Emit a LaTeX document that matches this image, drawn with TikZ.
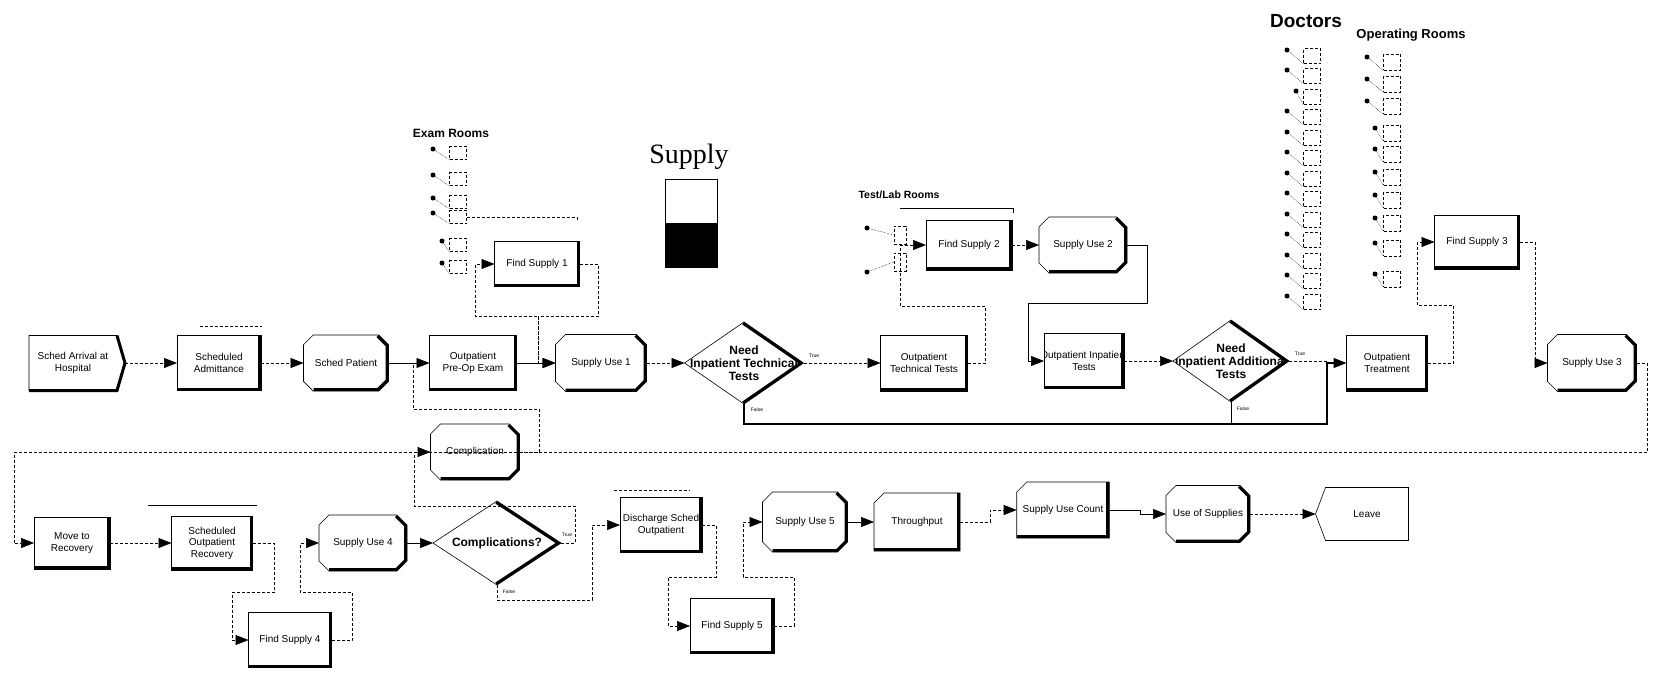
\documentclass[tikz,border=0pt]{standalone}
\usepackage{fontspec}
\setmainfont{Liberation Sans}
\newfontfamily\supplyfont{Liberation Serif}
\usetikzlibrary{shapes.geometric,shapes.misc,arrows.meta}
\tikzset{
  ln/.style={line width=0.6pt, densely dashed},
  sln/.style={line width=0.7pt},
  conn/.style={ln, -{Triangle[length=13pt,width=10pt]}},
  sconn/.style={sln, -{Triangle[length=13pt,width=10pt]}},
  sz/.style 2 args={minimum width=#1pt, minimum height=#2pt},
  txt/.style={font=\fontsize{10}{11.5}\selectfont, align=center, inner sep=1pt, outer sep=0pt},
  proc/.style={txt, rectangle, draw, line width=0.6pt, fill=white,
    path picture={\draw[line width=6pt] (path picture bounding box.north east) -- (path picture bounding box.south east) -- (path picture bounding box.south west);}},
  cproc/.style={txt, rectangle, draw, line width=0.6pt, fill=white,
    path picture={\node[rectangle, draw=none, fill=none, txt] at (path picture bounding box.center) {#1};
      \draw[line width=6pt] (path picture bounding box.north east) -- (path picture bounding box.south east) -- (path picture bounding box.south west);}},
  octa/.style={txt, chamfered rectangle, chamfered rectangle sep=5pt, draw, line width=0.6pt, fill=white,
    path picture={\draw[line width=6pt] ([xshift=-10pt]path picture bounding box.north east) -- ([yshift=-10pt]path picture bounding box.north east) -- ([yshift=10pt]path picture bounding box.south east) -- ([xshift=-10pt]path picture bounding box.south east) -- ([xshift=10pt]path picture bounding box.south west);}},
  rec/.style={txt, chamfered rectangle, chamfered rectangle corners=north west, chamfered rectangle sep=5pt, draw, line width=0.6pt, fill=white,
    path picture={\draw[line width=6pt] (path picture bounding box.north east) -- (path picture bounding box.south east) -- (path picture bounding box.south west);}},
  dec/.style={diamond, draw, line width=0.6pt, fill=white, inner sep=0pt, outer sep=0pt,
    path picture={\node[rectangle, draw=none, fill=none, font=\bfseries\fontsize{12}{13}\selectfont, align=center, inner sep=0pt] at (path picture bounding box.center) {#1};
      \draw[line width=6pt] (path picture bounding box.north) -- (path picture bounding box.east) -- (path picture bounding box.south);}},
  flag/.style={font=\fontsize{5}{6}\selectfont, inner sep=0pt},
  res/.style={draw, densely dashed, line width=0.5pt, inner sep=0pt},
  rdot/.style={circle, fill, inner sep=0pt, minimum size=5pt},
  heading/.style={font=\bfseries\fontsize{#1}{#1}\selectfont, inner sep=0pt},
}
\begin{document}
\begin{tikzpicture}[x=1pt, y=-1pt]
\useasboundingbox (0,0) rectangle (1653,673);

% ---------- titles ----------
\node[heading=19] (doc) at (1306,21) {Doctors};
\node[heading=13] (orl) at (1411,35) {Operating Rooms};
\node[heading=12] (exl) at (451,133) {Exam Rooms};
\node[heading=10.5] (tll) at (899,195) {Test/Lab Rooms};
\node[font=\supplyfont\fontsize{28}{28}\selectfont, inner sep=0pt] (suptitle) at (689,157) {Supply};
\node[draw, line width=0.5pt, sz={52}{88}, inner sep=0pt] (sbar) at (691,223) {};
\fill (sbar.west) rectangle (sbar.south east);

% ---------- resources ----------
\foreach \y/\dx [count=\i] in {153/433,179/433,202/433,217/433,245/442,267/442} {
  \node[res, sz={17}{13}] (er\i) at (458,\y) {};
  \node[rdot] (erd\i) at (\dx,\y-4) {};
  \draw[densely dotted, line width=0.5pt] (erd\i) -- (er\i.south west);
}
\foreach \y/\dx [count=\i] in {56/1287,76/1287,97/1296,117/1287,138/1287,158/1287,179/1287,199/1287,220/1287,240/1287,261/1287,281/1287,302/1287} {
  \node[res, sz={17}{15}] (dr\i) at (1312,\y) {};
  \node[rdot] (drd\i) at (\dx,\y-6) {};
  \draw[densely dotted, line width=0.5pt] (drd\i) -- (dr\i.south west);
}
\foreach \y/\dx [count=\i] in {62/1367,84/1367,106/1367,133/1375,154/1375,177/1375,200/1375,223/1375,248/1375,279/1375} {
  \node[res, sz={17}{16}] (or\i) at (1392,\y) {};
  \node[rdot] (ord\i) at (\dx,\y-5) {};
  \draw[densely dotted, line width=0.5pt] (ord\i) -- (or\i.south west);
}
\node[res, sz={12}{18}] (tl1) at (900,235) {};
\node[res, sz={12}{18}] (tl2) at (900,262) {};
\node[rdot] (tld1) at (867,228) {};
\node[rdot] (tld2) at (867,272) {};
\draw[densely dotted, line width=0.5pt] (tld1) -- (tl1.west);
\draw[densely dotted, line width=0.5pt] (tld2) -- (tl2.west);

% ---------- decorative queue lines ----------
\draw[ln] (200,326) -- (262,326);
\draw[ln] (467,217) -- (577,217) -- (577,222);
\draw[line width=0.5pt] (900,208) -- (1013,208) -- (1013,213);
\draw[line width=0.5pt] (148,505) -- (257,505);
\draw[ln] (614,490) -- (690,490);

% ---------- top row ----------
\node[txt, sz={88}{55}] (arr) at (73,363) {Sched Arrival at\\Hospital};
\draw[line width=0.6pt] (arr.north west) -- (arr.north east) -- ([xshift=8pt]arr.east) -- (arr.south east) -- (arr.south west) -- cycle;
\draw[line width=3pt] (arr.north east) -- ([xshift=8pt]arr.east) -- (arr.south east) -- (arr.south west);
\node[proc, sz={84}{55}] (adm) at (219,363) {Scheduled\\Admittance};
\node[octa, sz={85}{56}] (spat) at (346,363) {Sched Patient};
\node[proc, sz={87}{55}] (preop) at (473,363) {Outpatient\\Pre-Op Exam};
\node[octa, sz={91}{57}] (su1) at (601,363) {Supply Use 1};
\node[dec={Need\\Inpatient Technical\\Tests}, sz={119}{82}] (d1) at (744,363) {};
\node[proc, sz={87}{56}] (ott) at (924,363) {Outpatient\\Technical Tests};
\node[cproc={Outpatient Inpatient\\Tests}, sz={80}{55}] (oit) at (1084,361) {};
\node[dec={Need\\Inpatient Additional\\Tests}, sz={116}{82}] (d2) at (1231,361) {};
\node[proc, sz={81}{56}] (otr) at (1387,363) {Outpatient\\Treatment};
\node[octa, sz={89}{57}] (su3) at (1592,363) {Supply Use 3};

% ---------- upper row ----------
\node[proc, sz={85}{45}] (fs1) at (537,264) {Find Supply 1};
\node[proc, sz={86}{50}] (fs2) at (969,245) {Find Supply 2};
\node[octa, sz={88}{56}] (su2) at (1083,245) {Supply Use 2};
\node[proc, sz={85}{54}] (fs3) at (1477,242) {Find Supply 3};

% ---------- bottom row ----------
\node[proc, sz={76}{52}] (mtr) at (72,543) {Move to\\Recovery};
\node[proc, sz={81}{54}] (sor) at (212,543) {Scheduled\\Outpatient\\Recovery};
\node[octa, sz={88}{56}] (su4) at (363,543) {Supply Use 4};
\node[dec={Complications?}, sz={128}{84}] (d3) at (497,543) {};
\node[proc, sz={83}{55}] (fs4) at (290,640) {Find Supply 4};
\node[octa, sz={89}{56}] (comp) at (475,452) {Complication};
\node[cproc={Discharge Sched\\Outpatient}, sz={82}{55}] (dis) at (661,525) {};
\node[proc, sz={84}{55}] (fs5) at (732,626) {Find Supply 5};
\node[octa, sz={85}{60}] (su5) at (805,522) {Supply Use 5};
\node[rec, sz={86}{58}] (thr) at (917,522) {Throughput};
\node[rec, sz={87}{56}] (suc) at (1063,510) {Supply Use Count};
\node[octa, sz={84}{57}] (uos) at (1208,514) {Use of Supplies};
\node[txt, sz={83}{53}] (lv) at (1367,514) {Leave};
\draw[line width=0.6pt] (lv.north west) -- (lv.north east) -- (lv.south east) -- (lv.south west) -- ([xshift=-10pt]lv.west) -- cycle;

% ---------- junctions ----------
\coordinate (jt) at (1327,361);
\coordinate (jf) at (1231,424);
\coordinate (jc) at (413,363);

% ---------- connectors: top ----------
\draw[conn] ([xshift=8pt]arr.east) -- (adm.west);
\draw[conn] (adm.east) -- (spat.west);
\draw[sconn] (spat.east) -- (preop.west);
\draw[conn] (preop.east) -| (538,316) -| (475,290) |- (fs1.west);
\draw[conn] (fs1.east) -| (598,316) -- (538,316) -- (538,363) -- (su1.west);
\draw[sconn] (preop.east) -- (su1.west);
\draw[conn] (su1.east) -- (d1.west);
\draw[conn] (d1.east) -- (ott.west);
\node[flag] (t1) at (814,356) {True};
\draw[sconn, line width=1.1pt] (d1.south) -- (744,424) -| (1327,363) -- (otr.west);
\node[flag] (f1) at (757,410) {False};
\draw[conn] (ott.east) -- (985,363) |- (900,306) |- (fs2.west);
\draw[conn] (fs2.east) -- (su2.west);
\draw[sconn] (su2.east) -| (1147,303) -| (1028,340) |- (oit.west);
\draw[conn] (oit.east) -- (d2.west);
\draw[ln] (d2.east) -- (jt);
\draw[sln] (d2.south) -- (jf);
\node[flag] (t2) at (1300,354) {True};
\node[flag] (f2) at (1243,409) {False};
\draw[conn] (otr.east) -| (1453,305) -| (1417,280) |- (fs3.west);
\draw[conn] (fs3.east) -| (1535,340) |- (su3.west);
\draw[conn] (su3.east) -| (1647,452) -| (14,500) |- (mtr.west);

% ---------- connectors: bottom ----------
\draw[conn] (mtr.east) -- (sor.west);
\draw[conn] (sor.east) -| (274,592) -| (232,620) |- (fs4.west);
\draw[conn] (fs4.east) -| (352,592) -| (300,560) |- (su4.west);
\draw[sconn] (su4.east) -- (d3.west);
\draw[conn] (d3.east) -| (575,506) -| (414,480) |- (comp.west);
\node[flag] (t3) at (567,535) {True};
\draw[ln] (comp.east) -| (539,409) -| (jc);
\draw[conn] (d3.south) |- (592,600) |- (dis.west);
\node[flag] (f3) at (509,592) {False};
\draw[conn] (dis.east) -| (716,577) -| (668,600) |- (fs5.west);
\draw[conn] (fs5.east) -| (794,577) -| (743,550) |- (su5.west);
\draw[sconn] (su5.east) -- (thr.west);
\draw[conn] (thr.east) -| (990,516) |- (suc.west);
\draw[sconn] (suc.east) -| (1140,512) |- (uos.west);
\draw[conn] (uos.east) -- ([xshift=-10pt]lv.west);
\end{tikzpicture}
\end{document}
